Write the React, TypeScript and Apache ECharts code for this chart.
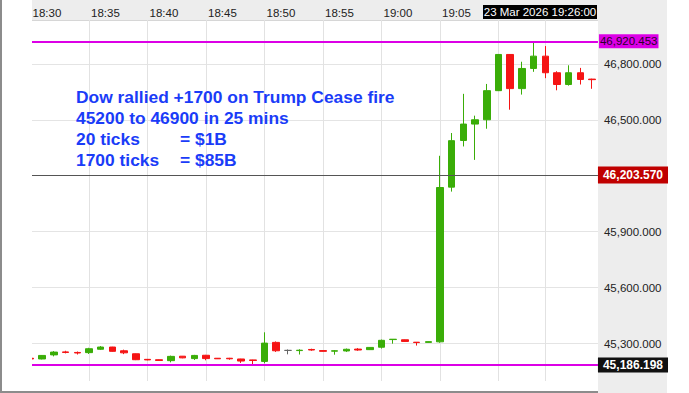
import React, { useEffect, useRef } from 'react';
import * as echarts from 'echarts';

const TIMES = [
  '18:30', '18:31', '18:32', '18:33', '18:34', '18:35', '18:36', '18:37', '18:38', '18:39',
  '18:40', '18:41', '18:42', '18:43', '18:44', '18:45', '18:46', '18:47', '18:48', '18:49',
  '18:50', '18:51', '18:52', '18:53', '18:54', '18:55', '18:56', '18:57', '18:58', '18:59',
  '19:00', '19:01', '19:02', '19:03', '19:04', '19:05', '19:06', '19:07', '19:08', '19:09',
  '19:10', '19:11', '19:12', '19:13', '19:14', '19:15', '19:16', '19:17', '19:18',
];
const OPEN = [
  45222, 45218, 45240, 45256, 45253, 45252, 45270, 45282, 45262, 45246,
  45216, 45214, 45209, 45233, 45220, 45238, 45222, 45222, 45218, 45213,
  45205, 45307, 45264, 45263, 45269, 45263, 45260, 45261, 45271, 45268,
  45281, 45322, 45321, 45308, 45307, 45310, 46139, 46389, 46477, 46500,
  46656, 46850, 46667, 46775, 46841, 46752, 46689, 46752, 46718,
];
const CLOSE = [
  45218, 45237, 45255, 45253, 45250, 45273, 45282, 45259, 45251, 45214,
  45213, 45210, 45232, 45224, 45237, 45220, 45219, 45219, 45207, 45210,
  45303, 45262, 45264, 45265, 45266, 45259, 45262, 45270, 45266, 45280,
  45318, 45324, 45312, 45306, 45311, 46137, 46388, 46477, 46500, 46656,
  46850, 46667, 46775, 46841, 46752, 46689, 46752, 46716, 46715,
];
const LOW = [
  45216, 45216, 45232, 45248, 45242, 45245, 45266, 45257, 45244, 45212,
  45211, 45209, 45200, 45222, 45213, 45211, 45218, 45214, 45197, 45186.198,
  45195, 45256, 45243, 45242, 45262, 45258, 45241, 45256, 45262, 45266,
  45274, 45300, 45311, 45290, 45306, 45305, 46115, 46357, 46285, 46452,
  46654, 46554, 46635, 46757, 46723, 46658, 46683, 46689, 46666,
];
const HIGH = [
  45224, 45239, 45260, 45262, 45258, 45278, 45287, 45283, 45268, 45247,
  45218, 45215, 45236, 45234, 45240, 45240, 45223, 45224, 45219, 45214,
  45361, 45312, 45269, 45270, 45273, 45264, 45266, 45274, 45276, 45281,
  45322, 45325, 45322, 45309, 45312, 46307, 46429, 46639, 46522, 46692,
  46852, 46852, 46811, 46920.453, 46895, 46760, 46792, 46778, 46720,
];

const TIME_LABELS = ['18:30', '18:35', '18:40', '18:45', '18:50', '18:55', '19:00', '19:05'];
const GRID_TIMES = ['18:30', '18:35', '18:40', '18:45', '18:50', '18:55', '19:00', '19:05', '19:10'];
const CROSSHAIR_TIME = '19:14';
const CROSSHAIR_LABEL = '23 Mar 2026 19:26:00';
const Y_TICKS = [45300, 45600, 45900, 46500, 46800];
const Y_GRID_STEP = 300;
const SESSION_HIGH = 46920.453;
const LAST_PRICE = 46203.57;
const SESSION_LOW = 45186.198;

const NOTE_LEFT = [
  'Dow rallied +1700 on Trump Cease fire',
  '45200 to 46900 in 25 mins',
  '20 ticks',
  '1700 ticks',
];
const NOTE_RIGHT = ['= $1B', '= $85B'];

const FONT = '"Liberation Sans", Arial, Helvetica, sans-serif';
const GREEN = '#3aad08';
const RED = '#f51414';
const MAGENTA = '#dc00e6';

const Y_MIN = 45100;
const Y_MAX = 47034.7;
const Y_STEP = 100;

const fmt = (v: number) =>
  v.toLocaleString('en-US', { minimumFractionDigits: 3, maximumFractionDigits: 3 });

export default function App() {
  const ref = useRef<HTMLDivElement>(null);

  useEffect(() => {
    if (!ref.current) return;
    const chart = echarts.init(ref.current, undefined, { renderer: 'svg' });

    const candles = TIMES.map((_, i) => [OPEN[i], CLOSE[i], LOW[i], HIGH[i]]);

    // split line colours, one per tick (45100, 45200, ..., 47000, max)
    const splitColors: string[] = [];
    for (let v = Y_MIN; v <= 47000; v += Y_STEP) {
      splitColors.push(v % Y_GRID_STEP === 0 ? '#e4e4e4' : 'rgba(0,0,0,0)');
    }
    splitColors.push('#d6d6d6');

    const noteLineY = [97, 118, 139, 160];
    const graphics: any[] = [
      { type: 'rect', z: -10, shape: { x: 32, y: 0, width: 566, height: 20 }, style: { fill: '#ededed' } },
      { type: 'rect', z: -10, shape: { x: 598, y: 0, width: 69, height: 393 }, style: { fill: '#ededed' } },
      { type: 'rect', z: 100, shape: { x: 2, y: 0, width: 30, height: 391 }, style: { fill: '#ffffff' } },
      { type: 'rect', z: 101, shape: { x: 0, y: 0, width: 2, height: 393 }, style: { fill: '#8c8c8c' } },
      { type: 'rect', z: 101, shape: { x: 0, y: 391, width: 598, height: 2 }, style: { fill: '#8c8c8c' } },
      { type: 'rect', z: 101, shape: { x: 483, y: 5, width: 114, height: 14 }, style: { fill: '#000000' } },
      {
        type: 'text', z: 102, x: 540, y: 12,
        style: { text: CROSSHAIR_LABEL, fill: '#ffffff', font: `11.5px ${FONT}`, align: 'center', verticalAlign: 'middle' },
      },
    ];
    NOTE_LEFT.forEach((t, i) => {
      graphics.push({
        type: 'text', z: 102, x: 76, y: noteLineY[i],
        style: { text: t, fill: '#1a3cf8', font: `bold 17.4px ${FONT}`, verticalAlign: 'middle' },
      });
    });
    NOTE_RIGHT.forEach((t, i) => {
      graphics.push({
        type: 'text', z: 102, x: 180, y: noteLineY[i + 2],
        style: { text: t, fill: '#1a3cf8', font: `bold 17.4px ${FONT}`, verticalAlign: 'middle' },
      });
    });

    const option: any = {
      animation: false,
      backgroundColor: '#ffffff',
      grid: { left: 24.65, top: 20, width: 573.3, height: 361 },
      xAxis: {
        type: 'category',
        position: 'top',
        data: TIMES,
        boundaryGap: true,
        axisLine: { show: false },
        axisTick: { show: false },
        splitLine: { show: false },
        axisLabel: {
          interval: (_i: number, v: string) => TIME_LABELS.includes(v),
          align: 'left',
          margin: 1,
          padding: [0, 0, 0, 2],
          fontSize: 11.5,
          color: '#222222',
          fontFamily: FONT,
        },
      },
      yAxis: {
        type: 'value',
        position: 'right',
        min: Y_MIN,
        max: Y_MAX,
        interval: Y_STEP,
        axisLine: { show: false },
        axisTick: { show: false },
        splitLine: {
          show: true,
          lineStyle: { color: splitColors, width: 1 },
        },
        axisLabel: {
          margin: 6,
          fontSize: 11.5,
          color: '#222222',
          fontFamily: FONT,
          formatter: (v: number) => (Y_TICKS.includes(v) ? fmt(v) : ''),
        },
      },
      series: [
        {
          type: 'line',
          data: [],
          z: 1,
          silent: true,
          markLine: {
            silent: true,
            z: 1,
            symbol: ['none', 'none'],
            label: { show: false },
            lineStyle: { color: '#e2e2e2', width: 1, type: 'solid' },
            data: [...GRID_TIMES, CROSSHAIR_TIME].map((t) => ({ xAxis: t })),
          },
        },
        {
          type: 'candlestick',
          data: candles,
          barWidth: 7,
          itemStyle: {
            color: GREEN,
            color0: RED,
            borderColor: GREEN,
            borderColor0: RED,
            borderColorDoji: '#666666',
            borderWidth: 1,
          },
          markLine: {
            silent: true,
            symbol: ['none', 'none'],
            data: [
              {
                yAxis: SESSION_HIGH,
                lineStyle: { color: MAGENTA, width: 2, type: 'solid' },
                label: {
                  show: true, position: 'end', distance: 1,
                  formatter: fmt(SESSION_HIGH),
                  backgroundColor: MAGENTA, color: '#2a002a',
                  fontSize: 11.5, fontFamily: FONT, padding: [1, 1, 1, 1],
                },
              },
              {
                yAxis: LAST_PRICE,
                lineStyle: { color: '#555555', width: 1, type: 'solid' },
                label: {
                  show: true, position: 'end', distance: 0,
                  formatter: fmt(LAST_PRICE),
                  backgroundColor: '#c00000', color: '#ffffff', fontWeight: 'bold',
                  fontSize: 12, fontFamily: FONT, padding: [3, 5, 2, 5],
                },
              },
              {
                yAxis: SESSION_LOW,
                lineStyle: { color: MAGENTA, width: 2, type: 'solid' },
                label: {
                  show: true, position: 'end', distance: 0,
                  formatter: fmt(SESSION_LOW),
                  backgroundColor: '#111111', color: '#ffffff', fontWeight: 'bold',
                  fontSize: 12, fontFamily: FONT, padding: [2, 5, 1, 5],
                },
              },
            ],
          },
        },
      ],
      graphic: graphics,
    };

    chart.setOption(option);
    return () => chart.dispose();
  }, []);

  return (
    <div
      ref={ref}
      style={{ position: 'fixed', left: 0, top: 0, width: 689, height: 393, background: '#fff' }}
    />
  );
}
